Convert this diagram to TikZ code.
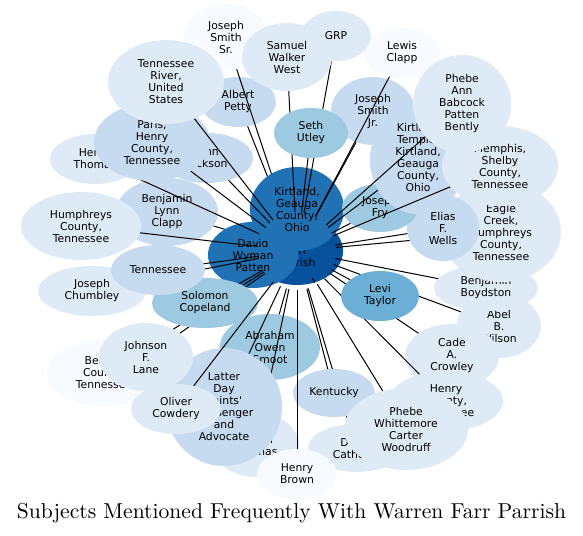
\documentclass[tikz,border=0pt]{standalone}
\usepackage{fontspec}
\usepackage{graphicx}
\newfontfamily\dvs{DejaVu Sans}
\usetikzlibrary{shapes.geometric}
\pgfdeclarelayer{back}
\pgfsetlayers{back,main}
\definecolor{bA}{HTML}{F7FBFF}
\definecolor{bB}{HTML}{DEEBF7}
\definecolor{bC}{HTML}{C6DBEF}
\definecolor{bD}{HTML}{9ECAE1}
\definecolor{bE}{HTML}{6BAED6}
\definecolor{bF}{HTML}{4292C6}
\definecolor{bG}{HTML}{2171B5}
\definecolor{bH}{HTML}{08519C}
\begin{document}
\begin{tikzpicture}[x=1pt, y=-1pt,
  nd/.style={ellipse, inner sep=0pt, align=center, text=black,
    font=\dvs\fontsize{10.8}{12}\selectfont},
  lb/.style={inner sep=0pt, align=center, text=black,
    font=\dvs\fontsize{10.8}{12}\selectfont},
  sz/.style 2 args={minimum width=#1pt, minimum height=#2pt},
  ed/.style={draw=black, line width=1pt, shorten >=39pt}]
\fill[white] (0,0) rectangle (583,535);
\useasboundingbox (0,0) rectangle (583,535);
\begin{pgfonlayer}{back}
\node[nd, sz={72}{48}, fill=bF] (CBI) at (325,301) {CBI};
\end{pgfonlayer}
\node[nd, sz={92}{68}, fill=bH] (P) at (297,251) {Warren\\Farr\\Parrish};
\node[nd, sz={102}{68}, fill=bC] (BLC) at (167,212) {Benjamin\\Lynn\\Clapp};
\draw[ed] (BLC) -- (P.center);
\node[nd, sz={90}{66}, fill=bG] (DWP) at (253,255) {David\\Wyman\\Patten};
\node[nd, sz={90}{50}, fill=bB] (HT) at (95,159) {Henry\\Thomas};
\draw[ed] (HT) -- (P.center);
\node[nd, sz={76}{50}, fill=bC] (AP) at (238,102) {Albert\\Petty};
\draw[ed] (AP) -- (P.center);
\node[nd, sz={84}{66}, fill=bA] (JSSr) at (226,37) {Joseph\\Smith\\Sr.};
\draw[ed] (JSSr) -- (P.center);
\node[nd, sz={94}{84}, fill=bG] (K) at (297,209) {Kirtland,\\Geauga\\County,\\Ohio};
\node[nd, sz={92}{50}, fill=bC] (JJ) at (207,158) {John\\Jackson};
\draw[ed] (JJ) -- (P.center);
\node[nd, sz={116}{78}, fill=bC] (PHC) at (152,142) {Paris,\\Henry\\County,\\Tennessee};
\draw[ed] (PHC) -- (P.center);
\node[nd, sz={116}{84}, fill=bB] (TR) at (166,82) {Tennessee\\River,\\United\\States};
\draw[ed] (TR) -- (P.center);
\node[nd, sz={120}{68}, fill=bB] (HUM) at (81,226) {Humphreys\\County,\\Tennessee};
\draw[ed] (HUM) -- (P.center);
\node[nd, sz={108}{50}, fill=bB] (JC) at (92,291) {Joseph\\Chumbley};
\draw[ed] (JC) -- (P.center);
\node[nd, sz={100}{66}, fill=bD] (AOS) at (270,347) {Abraham\\Owen\\Smoot};
\draw[ed] (AOS) -- (P.center);
\node[nd, sz={86}{64}, fill=bB] (DT) at (256,445) {Daniel\\Thomas};
\draw[ed] (DT) -- (P.center);
\node[nd, sz={116}{118}, fill=bC] (LDS) at (224,407) {Latter\\Day\\Saints'\\Messenger\\and\\Advocate};
\draw[ed] (LDS) -- (P.center);
\node[nd, sz={114}{66}, fill=bA] (BCT) at (104,373) {Benton\\County,\\Tennessee};
\draw[ed] (BCT) -- (P.center);
\node[nd, sz={94}{68}, fill=bB] (JFL) at (146,357) {Johnson\\F.\\Lane};
\draw[ed] (JFL) -- (P.center);
\node[nd, sz={106}{50}, fill=bD] (SC) at (205,303) {Solomon\\Copeland};
\draw[ed] (SC) -- (P.center);
\node[nd, sz={94}{50}, fill=bC] (TN) at (158,270) {Tennessee};
\draw[ed] (TN) -- (P.center);
\node[nd, sz={90}{50}, fill=bB] (OC) at (176,409) {Oliver\\Cowdery};
\draw[ed] (OC) -- (P.center);
\draw[ed, shorten >=0pt] (CBI) -- (P);
\node[nd, sz={96}{48}, fill=bB] (DC) at (356,448) {David\\Cathcart};
\draw[ed] (DC) -- (P.center);
\node[nd, sz={82}{48}, fill=bC] (KY) at (334,393) {Kentucky};
\draw[ed] (KY) -- (P.center);
\node[nd, sz={80}{50}, fill=bA] (HB) at (297,474) {Henry\\Brown};
\draw[ed] (HB) -- (P.center);
\node[nd, sz={84}{64}, fill=bB] (ABW) at (499,326) {Abel\\B.\\Wilson};
\draw[ed] (ABW) -- (P.center);
\node[nd, sz={94}{64}, fill=bB] (CAC) at (452,356) {Cade\\A.\\Crowley};
\draw[ed] (CAC) -- (P.center);
\node[nd, sz={114}{60}, fill=bB] (HCT) at (446,401) {Henry\\County,\\Tennessee};
\draw[ed] (HCT) -- (P.center);
\node[nd, sz={78}{50}, fill=bE] (LT) at (380,296) {Levi\\Taylor};
\draw[ed] (LT) -- (P.center);
\node[nd, sz={124}{82}, fill=bB] (PWCW) at (406,429) {Phebe\\Whittemore\\Carter\\Woodruff};
\draw[ed] (PWCW) -- (P.center);
\node[nd, sz={104}{46}, fill=bB] (BB) at (486,288) {Benjamin\\Boydston};
\draw[ed] (BB) -- (P.center);
\node[nd, sz={120}{100}, fill=bB] (EC) at (501,232) {Eagle\\Creek,\\Humphreys\\County,\\Tennessee};
\draw[ed] (EC) -- (P.center);
\node[nd, sz={72}{66}, fill=bC] (EW) at (443,228) {Elias\\F.\\Wells};
\draw[ed] (EW) -- (P.center);
\node[nd, sz={84}{68}, fill=bC] (JSJr) at (373,111) {Joseph\\Smith\\Jr.};
\draw[ed] (JSJr) -- (P.center);
\node[nd, sz={76}{48}, fill=bD] (JF) at (380,208) {Joseph\\Fry};
\draw[ed] (JF) -- (P.center);
\node[nd, sz={96}{108}, fill=bC,
  label={[lb, yshift=3pt]center:Kirtland\\Temple,\\Kirtland,\\Geauga\\County,\\Ohio}] (KT) at (418,160) {};
\draw[ed] (KT) -- (P.center);
\node[nd, sz={116}{80}, fill=bB] (MEM) at (500,166) {Memphis,\\Shelby\\County,\\Tennessee};
\draw[ed] (MEM) -- (P.center);
\node[nd, sz={76}{50}, fill=bA] (LC) at (402,53) {Lewis\\Clapp};
\draw[ed] (LC) -- (P.center);
\node[nd, sz={98}{98}, fill=bB] (PAB) at (462,104) {Phebe\\Ann\\Babcock\\Patten\\Bently};
\draw[ed] (PAB) -- (P.center);
\node[nd, sz={70}{50}, fill=bB] (GRP) at (336,36) {GRP};
\draw[ed] (GRP) -- (P.center);
\node[nd, sz={90}{68}, fill=bB] (SWW) at (287,57) {Samuel\\Walker\\West};
\draw[ed] (SWW) -- (P.center);
\node[nd, sz={74}{50}, fill=bD] (SU) at (311,133) {Seth\\Utley};
\draw[ed] (SU) -- (P.center);
\node (title) at (291.5,513) {\resizebox{549pt}{!}{Subjects Mentioned Frequently With Warren Farr Parrish}};
\end{tikzpicture}
\end{document}
